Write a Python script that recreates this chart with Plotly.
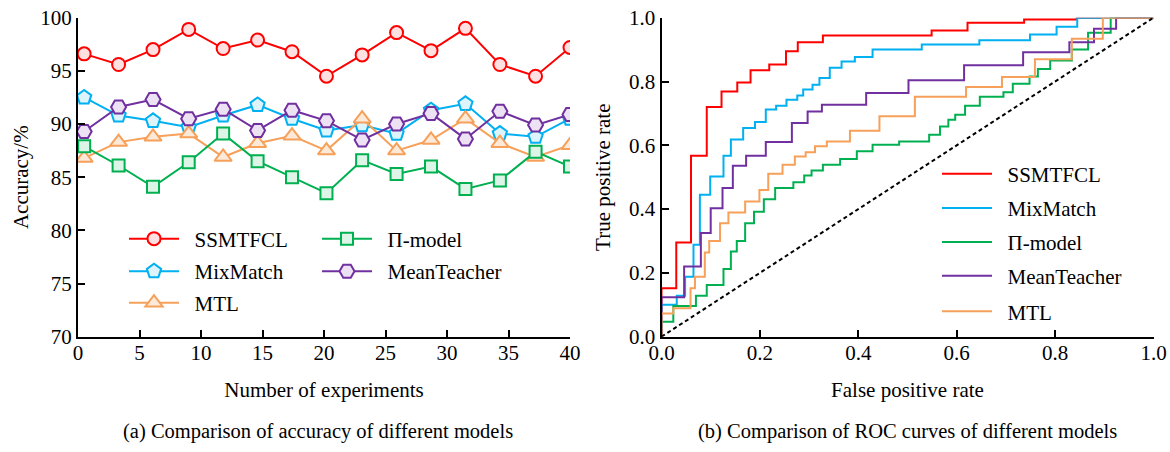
import plotly.graph_objects as go

# ---------------- data: accuracy chart ----------------
exp_x = [0.5, 3.3, 6.1, 9.0, 11.8, 14.6, 17.4, 20.2, 23.1, 25.9, 28.7, 31.5, 34.3, 37.2, 40.0]
acc_ssmtfcl = [96.6, 95.6, 97.0, 98.9, 97.1, 97.9, 96.8, 94.5, 96.5, 98.6, 96.9, 99.0, 95.6, 94.5, 97.2]
acc_mixmatch = [92.5, 90.8, 90.3, 89.7, 90.8, 91.8, 90.5, 89.4, 89.9, 89.1, 91.3, 91.9, 89.1, 88.8, 90.5]
acc_mtl = [86.8, 88.3, 88.8, 89.1, 86.9, 88.2, 88.9, 87.5, 90.5, 87.5, 88.5, 90.5, 88.2, 86.9, 88.0]
acc_pimodel = [87.9, 86.1, 84.1, 86.4, 89.1, 86.5, 85.0, 83.5, 86.6, 85.3, 86.0, 83.9, 84.7, 87.4, 86.0]
acc_meanteacher = [89.3, 91.6, 92.3, 90.5, 91.4, 89.4, 91.3, 90.3, 88.5, 90.0, 91.0, 88.6, 91.2, 89.9, 90.9]

# ---------------- data: ROC chart (step corners) ----------------
fpr_ssmtfcl = [0, 0, 0.030, 0.060, 0.092, 0.122, 0.154, 0.181, 0.219, 0.253, 0.277, 0.328, 0.549, 0.622, 0.737, 0.844, 1.0]
tpr_ssmtfcl = [0, 0.152, 0.295, 0.567, 0.720, 0.769, 0.797, 0.835, 0.853, 0.895, 0.923, 0.944, 0.960, 0.984, 0.994, 1.0, 1.0]

fpr_mixmatch = [0, 0, 0.031, 0.048, 0.065, 0.078, 0.099, 0.126, 0.141, 0.166, 0.190, 0.212, 0.233, 0.254, 0.276,
                0.288, 0.307, 0.321, 0.342, 0.366, 0.393, 0.429, 0.529, 0.646, 0.749, 0.803, 0.845, 1.0]
tpr_mixmatch = [0, 0.100, 0.128, 0.188, 0.288, 0.445, 0.502, 0.567, 0.618, 0.654, 0.673, 0.712, 0.724, 0.743, 0.756,
                0.775, 0.790, 0.811, 0.843, 0.863, 0.877, 0.900, 0.916, 0.929, 0.947, 0.972, 1.0, 1.0]

fpr_pimodel = [0, 0, 0.024, 0.070, 0.092, 0.126, 0.141, 0.153, 0.170, 0.188, 0.208, 0.231, 0.268, 0.290, 0.305,
               0.328, 0.363, 0.397, 0.429, 0.483, 0.544, 0.566, 0.583, 0.597, 0.617, 0.647, 0.695, 0.714, 0.748,
               0.765, 0.790, 0.834, 0.867, 0.913, 1.0]
tpr_pimodel = [0, 0.047, 0.096, 0.128, 0.162, 0.212, 0.267, 0.300, 0.356, 0.392, 0.431, 0.466, 0.484, 0.505, 0.521,
               0.539, 0.557, 0.581, 0.602, 0.612, 0.633, 0.659, 0.680, 0.696, 0.724, 0.752, 0.766, 0.793, 0.816,
               0.839, 0.866, 0.900, 0.953, 1.0, 1.0]

fpr_meanteacher = [0, 0, 0.046, 0.080, 0.100, 0.124, 0.145, 0.172, 0.212, 0.265, 0.297, 0.326, 0.416, 0.502, 0.615,
                   0.735, 0.829, 0.879, 0.924, 1.0]
tpr_meanteacher = [0, 0.124, 0.220, 0.325, 0.403, 0.466, 0.536, 0.567, 0.610, 0.670, 0.706, 0.727, 0.764, 0.804, 0.851,
                   0.892, 0.923, 0.965, 1.0, 1.0]

fpr_mtl = [0, 0, 0.024, 0.059, 0.068, 0.088, 0.097, 0.119, 0.136, 0.170, 0.199, 0.217, 0.246, 0.271, 0.293, 0.312,
           0.336, 0.383, 0.443, 0.515, 0.619, 0.692, 0.759, 0.834, 0.897, 1.0]
tpr_mtl = [0, 0.073, 0.089, 0.152, 0.188, 0.264, 0.300, 0.356, 0.389, 0.424, 0.460, 0.511, 0.539, 0.565, 0.578, 0.597,
           0.612, 0.646, 0.691, 0.752, 0.783, 0.814, 0.870, 0.934, 1.0, 1.0]

chance_x = [0, 1]
chance_y = [0, 1]

# ---------------- styling ----------------
W, H = 1170, 452
FONT = "Liberation Serif"
RED, CYAN, ORANGE, GREEN, PURPLE = "#FF0000", "#00B0F0", "#F6A05A", "#00B050", "#7030A0"
PAD = "\u00a0\u00a0"  # small gap between legend sample and label

def px(x):
    return x / W

def py(y):
    return 1 - y / H

fig = go.Figure()

acc_series = [
    ("SSMTFCL", acc_ssmtfcl, RED, "#FFE0E0", "circle", 13, "legend"),
    ("MixMatch", acc_mixmatch, CYAN, "#DDF4FD", "pentagon", 15, "legend2"),
    ("MTL", acc_mtl, ORANGE, "#FDE9D8", "triangle-up", 15, "legend3"),
    ("Π-model", acc_pimodel, GREEN, "#DDF5E7", "square", 12, "legend4"),
    ("MeanTeacher", acc_meanteacher, PURPLE, "#EDE2F4", "hexagon2", 15, "legend5"),
]
for name, ys, col, fill, sym, size, leg in acc_series:
    fig.add_trace(go.Scatter(
        x=exp_x, y=ys, name=PAD + name, mode="lines+markers",
        line=dict(color=col, width=2),
        marker=dict(symbol=sym, size=size, color=fill, line=dict(color=col, width=2)),
        xaxis="x", yaxis="y", legend=leg,
    ))

roc_series = [
    ("SSMTFCL", fpr_ssmtfcl, tpr_ssmtfcl, RED, "legend6"),
    ("MixMatch", fpr_mixmatch, tpr_mixmatch, CYAN, "legend7"),
    ("Π-model", fpr_pimodel, tpr_pimodel, GREEN, "legend8"),
    ("MeanTeacher", fpr_meanteacher, tpr_meanteacher, PURPLE, "legend9"),
    ("MTL", fpr_mtl, tpr_mtl, ORANGE, "legend10"),
]
for name, xs, ys, col, leg in roc_series:
    fig.add_trace(go.Scatter(
        x=xs, y=ys, name=PAD + name, mode="lines", line=dict(color=col, width=2, shape="hv"),
        xaxis="x2", yaxis="y2", legend=leg,
    ))

fig.add_trace(go.Scatter(x=chance_x, y=chance_y, mode="lines", showlegend=False,
                         line=dict(color="black", width=2, dash="4px,3px"), xaxis="x2", yaxis="y2"))

# ---------------- layout ----------------
plot_top, plot_bot = 17.7, 336.7
tfont = dict(family=FONT, size=21, color="black")
axis_common = dict(
    showgrid=False, zeroline=False, showline=True, linecolor="black", linewidth=2,
    ticks="inside", ticklen=7, tickwidth=2, tickcolor="black",
    tickfont=tfont, mirror=False, automargin=False,
)

leg_common = dict(font=tfont, bgcolor="rgba(0,0,0,0)",
                  borderwidth=0, itemwidth=50, xanchor="left", yanchor="middle",
                  itemclick=False, itemdoubleclick=False)

legends = {}
left_pos = [(130, 239), (130, 271.5), (130, 303), (323, 239), (323, 271.5)]
right_pos = [(943, 174), (943, 208.3), (943, 242.3), (943, 276), (943, 311.7)]
for i, (lx, ly) in enumerate(left_pos + right_pos):
    key = "legend" if i == 0 else f"legend{i + 1}"
    legends[key] = dict(leg_common, x=px(lx - 6), y=py(ly))

fig.update_layout(
    template="none",
    width=W, height=H,
    margin=dict(l=0, r=0, t=0, b=0, autoexpand=False),
    paper_bgcolor="white", plot_bgcolor="white",
    font=tfont,
    xaxis=dict(axis_common, domain=[px(78), px(570)], range=[0, 40], tickvals=[0, 5, 10, 15, 20, 25, 30, 35, 40],
               anchor="y", ticklabelstandoff=-4,
               title=dict(text="Number of experiments", standoff=18, font=tfont)),
    yaxis=dict(axis_common, domain=[py(plot_bot), py(plot_top)], range=[70, 100],
               tickvals=[70, 75, 80, 85, 90, 95, 100], anchor="x",
               title=dict(text="Accuracy/%", standoff=6, font=tfont)),
    xaxis2=dict(axis_common, domain=[px(661.5), px(1153.5)], range=[0, 1],
                tickvals=[0, 0.2, 0.4, 0.6, 0.8, 1.0], ticktext=["0.0", "0.2", "0.4", "0.6", "0.8", "1.0"],
                anchor="y2", ticklabelstandoff=-4,
                title=dict(text="False positive rate", standoff=18, font=tfont)),
    yaxis2=dict(axis_common, domain=[py(plot_bot), py(plot_top)], range=[0, 1],
                tickvals=[0, 0.2, 0.4, 0.6, 0.8, 1.0], ticktext=["0.0", "0.2", "0.4", "0.6", "0.8", "1.0"],
                anchor="x2", title=dict(text="True positive rate", standoff=13, font=tfont)),
    annotations=[
        dict(text="(a) Comparison of accuracy of different models", x=px(318), y=py(431), xref="paper",
             yref="paper", showarrow=False, xanchor="center", yanchor="middle",
             font=dict(family=FONT, size=20.5, color="black")),
        dict(text="(b) Comparison of ROC curves of different models", x=px(907), y=py(431), xref="paper",
             yref="paper", showarrow=False, xanchor="center", yanchor="middle",
             font=dict(family=FONT, size=20.5, color="black")),
    ],
    **legends,
)

fig.write_html("out.html", config={"displayModeBar": False},
               post_script="document.body.style.margin='0px';")
